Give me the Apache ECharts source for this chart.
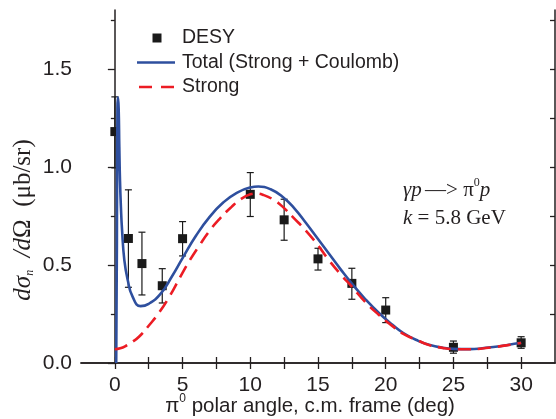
<!DOCTYPE html>
<html>
<head>
<meta charset="utf-8">
<script src="https://cdn.jsdelivr.net/npm/echarts@6/dist/echarts.min.js"></script>
<style>
html,body{margin:0;padding:0;background:#fff;}
#chart{width:556px;height:419px;}
</style>
</head>
<body>
<div id="chart"></div>
<script>
// ---- data ----
const desyX     = [0, 1, 2, 3.5, 5, 10, 12.5, 15, 17.5, 20, 25, 30];
const desyY     = [1.18, 0.635, 0.507, 0.394, 0.634, 0.86, 0.73, 0.531, 0.406, 0.27, 0.08, 0.103];
const desyErrLo = [0.995, 0.386, 0.347, 0.306, 0.546, 0.747, 0.626, 0.474, 0.325, 0.206, 0.05, 0.075];
const desyErrHi = [1.357, 0.883, 0.667, 0.481, 0.721, 0.971, 0.835, 0.585, 0.483, 0.333, 0.112, 0.134];

const totalX = [0.1, 0.15, 0.19, 0.23, 0.28, 0.33, 0.38, 0.45, 0.53, 0.7, 0.95, 1.3, 1.9, 2.5, 3.4, 4.2, 5, 6, 7, 8, 9, 10, 10.6, 11.5, 12.4, 13.3, 14.1, 15, 15.8, 16.7, 17.5, 18.5, 19.5, 20.5, 21.3, 22.4, 23.2, 24.2, 25, 26.2, 27, 28.1, 29, 30];
const totalY = [0, 0.6, 1.3, 1.355, 1.3, 1.1, 0.93, 0.79, 0.68, 0.525, 0.423, 0.34, 0.29, 0.302, 0.355, 0.44, 0.535, 0.65, 0.745, 0.818, 0.868, 0.895, 0.9, 0.886, 0.847, 0.785, 0.715, 0.632, 0.558, 0.475, 0.405, 0.325, 0.255, 0.195, 0.153, 0.113, 0.093, 0.078, 0.072, 0.071, 0.074, 0.083, 0.092, 0.103];

const strongX = [0, 0.4, 0.83, 1.3, 1.8, 2.5, 3.3, 4.0, 4.8, 5.5, 6.2, 7, 7.8, 8.6, 9.3, 10, 10.4, 11, 11.7, 12.4, 13.2, 14.1, 15, 15.8, 16.7, 17.5, 18.5, 19.5, 20.5, 21.3, 22.4, 23.2, 24.2, 25, 26.2, 27, 28.1, 29, 30];
const strongY = [0.07, 0.075, 0.088, 0.108, 0.135, 0.19, 0.26, 0.335, 0.435, 0.52, 0.595, 0.675, 0.74, 0.795, 0.835, 0.86, 0.864, 0.856, 0.833, 0.796, 0.74, 0.675, 0.6, 0.525, 0.45, 0.389, 0.31, 0.245, 0.188, 0.149, 0.114, 0.092, 0.077, 0.071, 0.07, 0.073, 0.082, 0.091, 0.102];

const xTickValues  = [0, 2.5, 5, 7.5, 10, 12.5, 15, 17.5, 20, 22.5, 25, 27.5, 30];
const xLabelValues = [0, 5, 10, 15, 20, 25, 30];
const yLabelValues = [0, 0.5, 1.0, 1.5];
const yMinorValues = [0.25, 0.75, 1.25, 1.75];
const yAllValues   = [0.25, 0.5, 0.75, 1.0, 1.25, 1.5, 1.75];

const seriesNames = ['DESY', 'Total (Strong + Coulomb)', 'Strong'];

// ---- chart ----
const ink = '#231f20';
const sans = "'Liberation Sans', Arial, sans-serif";
const serif = "'Liberation Serif', 'Times New Roman', serif";
const blue = '#2e4f9e';
const red = '#ec1c24';

const chart = echarts.init(document.getElementById('chart'), null, {renderer: 'canvas'});

const axisLine = {show: true, lineStyle: {color: ink, width: 1.5}};
const grid = {left: 81, top: 10, width: 474, height: 353};

// legend drawn as graphic items (positions only, no data)
const legendX = 137, legendTextX = 182, legendY = [38, 62.5, 87];
const legendFont = {fontSize: 19.5, fontFamily: sans, fill: ink, align: 'left', verticalAlign: 'middle'};

const option = {
  animation: false,
  backgroundColor: '#fff',
  grid: grid,
  xAxis: [
    {
      type: 'value', position: 'bottom', min: -2.5, max: 32.5,
      axisLine: axisLine, splitLine: {show: false},
      axisTick: {inside: true, length: 6, customValues: xTickValues, lineStyle: {color: ink, width: 1.3}},
      axisLabel: {customValues: xLabelValues, fontSize: 21, fontFamily: sans, color: ink, margin: 12},
    },
    {
      type: 'value', position: 'top', min: -2.5, max: 32.5,
      axisLine: axisLine, splitLine: {show: false},
      axisTick: {inside: true, length: 6, customValues: xTickValues, lineStyle: {color: ink, width: 1.3}},
      axisLabel: {show: false},
    }
  ],
  yAxis: [
    {
      type: 'value', position: 'left', min: 0, max: 1.8,
      axisLine: axisLine, splitLine: {show: false},
      axisTick: {inside: false, length: 7, customValues: yLabelValues, lineStyle: {color: ink, width: 1.3}},
      axisLabel: {customValues: yLabelValues, fontSize: 21, fontFamily: sans, color: ink, margin: 9,
        formatter: v => v.toFixed(1)},
    },
    {
      type: 'value', position: 'left', min: 0, max: 1.8,
      axisLine: {show: false}, splitLine: {show: false},
      axisTick: {inside: false, length: 4, customValues: yMinorValues, lineStyle: {color: ink, width: 1.3}},
      axisLabel: {show: false},
    },
    {
      type: 'value', position: 'right', min: 0, max: 1.8,
      axisLine: axisLine, splitLine: {show: false},
      axisTick: {inside: true, length: 5, customValues: yAllValues, lineStyle: {color: ink, width: 1.3}},
      axisLabel: {show: false},
    }
  ],
  series: [
    {
      name: 'ErrorBars', type: 'custom', z: 2,
      data: desyX.map((x, i) => [x, desyErrLo[i], desyErrHi[i]]),
      encode: {x: 0, y: [1, 2]},
      renderItem: function (params, api) {
        const x = api.value(0);
        const lo = api.coord([x, api.value(1)]);
        const hi = api.coord([x, api.value(2)]);
        const w = 3.5;
        const st = {stroke: '#1a1a1a', lineWidth: 1.2};
        return {type: 'group', children: [
          {type: 'line', shape: {x1: lo[0], y1: lo[1], x2: hi[0], y2: hi[1]}, style: st},
          {type: 'line', shape: {x1: lo[0] - w, y1: lo[1], x2: lo[0] + w, y2: lo[1]}, style: st},
          {type: 'line', shape: {x1: hi[0] - w, y1: hi[1], x2: hi[0] + w, y2: hi[1]}, style: st}
        ]};
      },
      silent: true
    },
    {
      name: seriesNames[0], type: 'scatter', z: 3,
      symbol: 'rect', symbolSize: 9,
      itemStyle: {color: '#1a1a1a', opacity: 1},
      data: desyX.map((x, i) => [x, desyY[i]])
    },
    {
      name: seriesNames[1], type: 'line', z: 4,
      showSymbol: false, symbol: 'none',
      smooth: 0.5,
      lineStyle: {color: blue, width: 2.6},
      itemStyle: {color: blue},
      data: totalX.map((x, i) => [x, totalY[i]])
    },
    {
      name: seriesNames[2], type: 'line', z: 5,
      showSymbol: false, symbol: 'none',
      smooth: 0.5,
      lineStyle: {color: red, width: 2.6, type: [13, 7]},
      itemStyle: {color: red},
      data: strongX.map((x, i) => [x, strongY[i]])
    }
  ],
  graphic: [
    // legend
    {type: 'rect', shape: {x: 157 - 4.5, y: legendY[0] - 4.5, width: 9, height: 9}, style: {fill: '#1a1a1a'}},
    {type: 'text', x: legendTextX, y: legendY[0], style: Object.assign({text: seriesNames[0]}, legendFont)},
    {type: 'line', shape: {x1: legendX, y1: legendY[1], x2: 175, y2: legendY[1]}, style: {stroke: blue, lineWidth: 2.6}},
    {type: 'text', x: legendTextX, y: legendY[1], style: Object.assign({text: seriesNames[1]}, legendFont)},
    {type: 'line', shape: {x1: 139, y1: legendY[2], x2: 175, y2: legendY[2]}, style: {stroke: red, lineWidth: 2.6, lineDash: [13, 9]}},
    {type: 'text', x: legendTextX, y: legendY[2], style: Object.assign({text: seriesNames[2]}, legendFont)},
    // x-axis title
    {
      type: 'text', x: 310, y: 417,
      style: {
        text: '{n|π}{sup|0}{n| polar angle, c.m. frame (deg)}',
        align: 'center', verticalAlign: 'bottom',
        fill: ink,
        rich: {
          n: {fontSize: 20.5, fontFamily: sans, fill: ink, lineHeight: 24, verticalAlign: 'bottom'},
          sup: {fontSize: 12, fontFamily: sans, fill: ink, lineHeight: 24, verticalAlign: 'top'}
        }
      }
    },
    // y-axis title
    {
      type: 'text', x: 22, y: 220, rotation: Math.PI / 2,
      style: {
        text: '{i|dσ}{sub|n}{i|  /d}{n|Ω  (μb/sr)}',
        align: 'center', verticalAlign: 'middle',
        fill: ink,
        rich: {
          i: {fontSize: 25, fontFamily: serif, fontStyle: 'italic', fill: ink, lineHeight: 28, verticalAlign: 'bottom'},
          n: {fontSize: 25, fontFamily: serif, fill: ink, lineHeight: 28, verticalAlign: 'bottom'},
          sub: {fontSize: 12, fontFamily: serif, fontStyle: 'italic', fill: ink, lineHeight: 22, verticalAlign: 'bottom'}
        }
      }
    },
    // annotation
    {
      type: 'text', x: 403, y: 201,
      style: {
        text: '{i|γp} {n|—> π}{sup|0}{i|p}',
        align: 'left', verticalAlign: 'bottom',
        fill: ink,
        rich: {
          i: {fontSize: 21, fontFamily: serif, fontStyle: 'italic', fill: ink, lineHeight: 24, verticalAlign: 'bottom'},
          n: {fontSize: 21, fontFamily: serif, fill: ink, lineHeight: 24, verticalAlign: 'bottom'},
          sup: {fontSize: 12, fontFamily: serif, fill: ink, lineHeight: 24, verticalAlign: 'top'}
        }
      }
    },
    {
      type: 'text', x: 403, y: 229,
      style: {
        text: '{i|k}{n| = 5.8 GeV}',
        align: 'left', verticalAlign: 'bottom',
        fill: ink,
        rich: {
          i: {fontSize: 21, fontFamily: serif, fontStyle: 'italic', fill: ink, lineHeight: 24, verticalAlign: 'bottom'},
          n: {fontSize: 21, fontFamily: serif, fill: ink, lineHeight: 24, verticalAlign: 'bottom'}
        }
      }
    }
  ]
};
chart.setOption(option);
</script>
</body>
</html>
